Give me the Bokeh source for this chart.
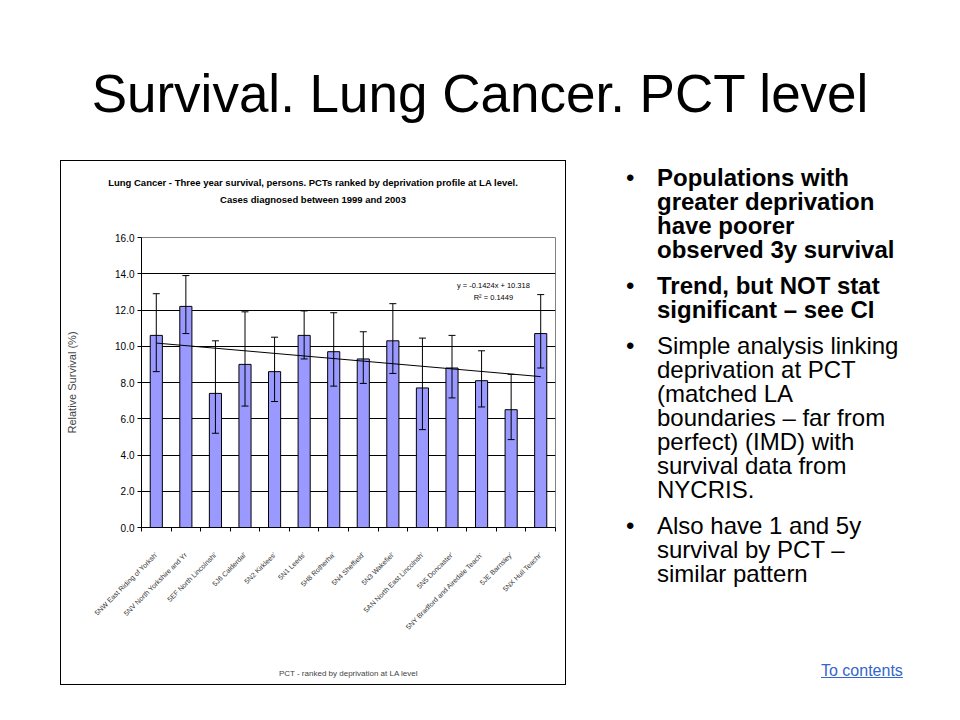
import math
from bokeh.plotting import figure
from bokeh.models import (ColumnDataSource, Whisker, TeeHead, FixedTicker,
                          PrintfTickFormatter, Label, Div, Spacer, Range1d)
from bokeh.layouts import column, row
from bokeh.embed import file_html
from bokeh.resources import INLINE

# ---------------- data ----------------
slide_title = "Survival. Lung Cancer. PCT level"
chart_title_1 = "Lung Cancer - Three year survival, persons. PCTs ranked by deprivation profile at LA level."
chart_title_2 = "Cases diagnosed between 1999 and 2003"
x_title = "PCT - ranked by deprivation at LA level"
y_title = "Relative Survival (%)"

pcts = [
    "5NW East Riding of Yorksh'",
    "5NV North Yorkshire and Yr",
    "5EF North Lincolnshi'",
    "5J6 Calderdal'",
    "5N2 Kirklees'",
    "5N1 Leeds'",
    "5H8 Rotherha'",
    "5N4 Sheffield'",
    "5N3 Wakefiel'",
    "5AN North East Lincolnsh'",
    "5N5 Doncaster'",
    "5NY Bradford and Airedale Teach'",
    "5JE Barnsley'",
    "5NX Hull Teachr'",
]
survival = [10.6, 12.2, 7.4, 9.0, 8.6, 10.6, 9.7, 9.3, 10.3, 7.7, 8.8, 8.1, 6.5, 10.7]
ci_upper = [12.9, 13.9, 10.3, 11.9, 10.5, 11.95, 11.85, 10.8, 12.35, 10.45, 10.6, 9.75, 8.45, 12.85]
ci_lower = [8.6, 10.7, 5.2, 6.7, 6.95, 9.3, 7.8, 7.95, 8.5, 5.4, 7.15, 6.65, 4.85, 8.8]
y_ticks = [0, 2, 4, 6, 8, 10, 12, 14, 16]
trend_slope = -0.1424
trend_intercept = 10.318
trend_r2 = 0.1449
eq_text = "y = -0.1424x + 10.318"
r2_text = "R\u00b2 = 0.1449"

bullets = [
    (True, ["Populations with", "greater deprivation", "have poorer", "observed 3y survival"]),
    (True, ["Trend, but NOT stat", "significant \u2013 see CI"]),
    (False, ["Simple analysis linking", "deprivation at PCT", "(matched LA",
             "boundaries \u2013 far from", "perfect) (IMD) with", "survival data from", "NYCRIS."]),
    (False, ["Also have 1 and 5y", "survival by PCT \u2013", "similar pattern"]),
]
link_text = "To contents"

FONT = "Liberation Sans"

# ---------------- chart ----------------
x_pos = list(range(1, len(pcts) + 1))
src = ColumnDataSource(dict(x=x_pos, top=survival, upper=ci_upper, lower=ci_lower))

p = figure(width=504, height=451, x_range=Range1d(0.5, len(pcts) + 0.5),
           y_range=Range1d(y_ticks[0], y_ticks[-1]),
           output_backend="svg", toolbar_location=None, margin=0,
           min_border_left=80, min_border_right=10, min_border_top=4, min_border_bottom=157)
p.background_fill_color = "white"
p.border_fill_color = "white"
p.outline_line_color = "#808080"
p.outline_line_width = 1

p.vbar(x="x", top="top", width=0.41, source=src, fill_color="#9999FF",
       line_color="black", line_width=1)

p.add_layout(Whisker(source=src, base="x", upper="upper", lower="lower",
                     line_color="black", line_width=1, level="overlay",
                     upper_head=TeeHead(size=7, line_color="black", line_width=1),
                     lower_head=TeeHead(size=7, line_color="black", line_width=1)))

tx = [x_pos[0], x_pos[-1]]
ty = [trend_slope * v + trend_intercept for v in tx]
p.line(tx, ty, line_color="black", line_width=1)

p.add_layout(Label(x=12.4, y=13.35, text=eq_text, text_font=FONT, text_font_size="7.5px",
                   text_align="center", text_baseline="middle", text_color="black"))
p.add_layout(Label(x=12.4, y=12.69, text=r2_text, text_font=FONT, text_font_size="7.5px",
                   text_align="center", text_baseline="middle", text_color="black"))

# x axis
xa = p.xaxis[0]
xa.ticker = FixedTicker(ticks=x_pos, minor_ticks=[v - 0.5 for v in x_pos] + [x_pos[-1] + 0.5])
xa.major_label_overrides = {v: name for v, name in zip(x_pos, pcts)}
xa.major_label_orientation = math.pi / 4
xa.major_label_standoff = 22
xa.major_label_text_font = FONT
xa.major_label_text_font_size = "7px"
xa.major_label_text_color = "#333333"
xa.major_tick_in = 0
xa.major_tick_out = 0
xa.minor_tick_in = 0
xa.minor_tick_out = 4
xa.minor_tick_line_color = "black"
xa.axis_line_color = "black"
xa.axis_label = x_title
xa.axis_label_text_font = FONT
xa.axis_label_text_font_size = "8px"
xa.axis_label_text_font_style = "normal"
xa.axis_label_standoff = 33

# y axis
ya = p.yaxis[0]
ya.ticker = FixedTicker(ticks=y_ticks)
ya.formatter = PrintfTickFormatter(format="%.1f")
ya.major_label_text_font = FONT
ya.major_label_text_font_size = "10px"
ya.major_label_text_color = "black"
ya.major_label_standoff = 3
ya.major_tick_in = 0
ya.major_tick_out = 4
ya.major_tick_line_color = "black"
ya.minor_tick_line_color = None
ya.axis_line_color = "black"
ya.axis_label = y_title
ya.axis_label_text_font = FONT
ya.axis_label_text_font_size = "11px"
ya.axis_label_text_font_style = "normal"
ya.axis_label_standoff = 34

p.xgrid.visible = False
p.ygrid.ticker = FixedTicker(ticks=y_ticks[1:-1])
p.ygrid.grid_line_color = "black"
p.ygrid.grid_line_width = 1

chart_title_div = Div(
    text=(f'<div style="width:504px;height:72px;padding-top:13px;box-sizing:border-box;'
          f'text-align:center;font-family:\'{FONT}\',Arial,sans-serif;font-weight:bold;'
          f'font-size:9.5px;line-height:17px;white-space:nowrap;color:#000;">'
          f'{chart_title_1}<br>{chart_title_2}</div>'),
    width=504, height=72, margin=0, styles={"background-color": "white"})

chart_box = column(chart_title_div, p, width=504, height=523, margin=0,
                   styles={"outline": "1px solid black"})

# ---------------- slide texts ----------------
title_div = Div(
    text=(f'<div style="position:relative;width:960px;height:161px;">'
          f'<div style="position:absolute;left:0;top:67px;width:960px;text-align:center;'
          f'font-family:\'{FONT}\',Arial,sans-serif;font-size:53px;line-height:53px;'
          f'white-space:nowrap;color:#000;">{slide_title}</div></div>'),
    width=960, height=161, margin=0)

paras = []
for i, (bold, lines) in enumerate(bullets):
    mt = 0 if i == 0 else 12
    fw = "bold" if bold else "normal"
    paras.append(
        f'<div style="position:relative;margin-top:{mt}px;font-weight:{fw};">'
        f'<span style="position:absolute;left:16px;top:0;font-weight:normal;">\u2022</span>'
        f'<div style="padding-left:47px;">{"<br>".join(lines)}</div></div>')

bullet_div = Div(
    text=(f'<div style="position:relative;width:340px;height:523px;padding-top:5px;box-sizing:border-box;'
          f'font-family:\'{FONT}\',Arial,sans-serif;font-size:24px;line-height:24px;'
          f'white-space:nowrap;color:#000;">' + "".join(paras) +
          f'<div style="position:absolute;left:211px;top:502px;font-size:16px;line-height:16px;'
          f'color:#3366CC;text-decoration:underline;">{link_text}</div></div>'),
    width=340, height=523, margin=0)

layout = column(
    title_div,
    row(Spacer(width=61, height=523, margin=0), chart_box,
        Spacer(width=45, height=523, margin=0), bullet_div, margin=0),
    margin=0,
)

open("out.html", "w").write(file_html(layout, INLINE))
